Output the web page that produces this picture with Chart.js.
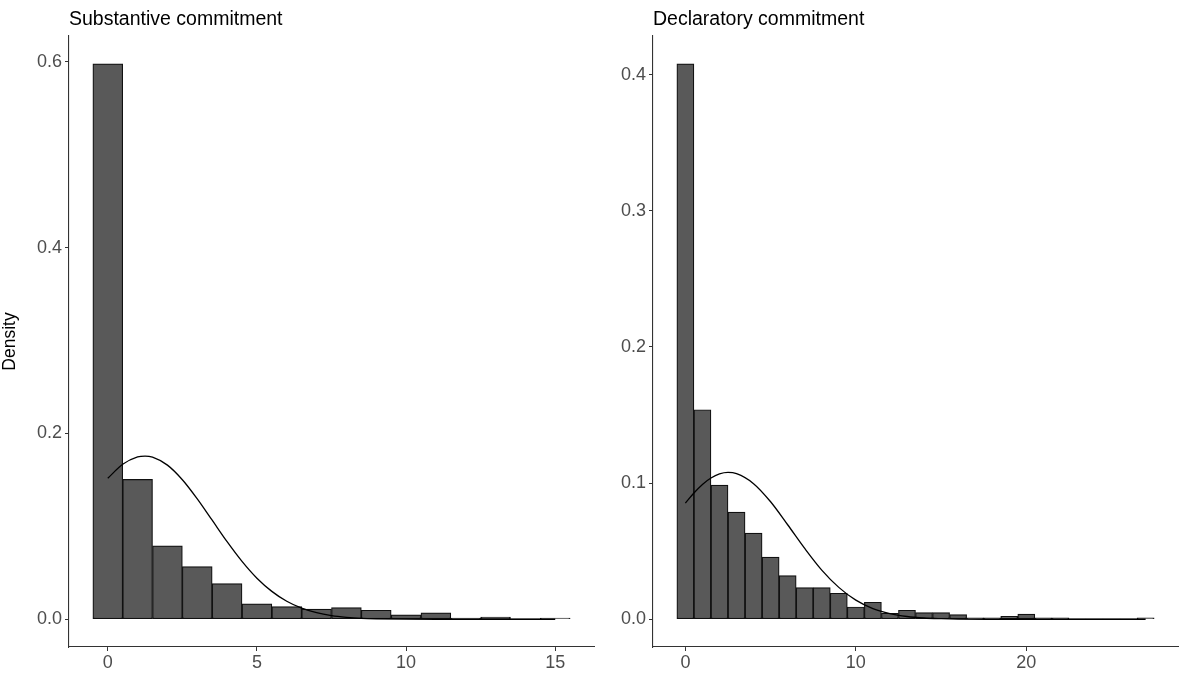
<!DOCTYPE html>
<html>
<head>
<meta charset="utf-8">
<script src="https://cdn.jsdelivr.net/npm/chart.js@4.4.1/dist/chart.umd.min.js"></script>
<style>
  html, body { margin: 0; padding: 0; background: #ffffff; }
  body { width: 1181px; height: 675px; position: relative; overflow: hidden; }
  #wrapL { position: absolute; left: 0; top: 0; width: 600px; height: 675px; }
  #wrapR { position: absolute; left: 590px; top: 0; width: 591px; height: 675px; }
</style>
</head>
<body>
<div id="wrapL"><canvas id="cL"></canvas></div>
<div id="wrapR"><canvas id="cR"></canvas></div>
<script>
// ---------- Data ----------
const titleLeft = "Substantive commitment";
const titleRight = "Declaratory commitment";
const yAxisLabel = "Density";

// Substantive commitment histogram (bin centres, density)
const subBins = [0, 1, 2, 3, 4, 5, 6, 7, 8, 9, 10, 11, 12, 13, 14, 15];
const subDensity = [0.598, 0.1505, 0.0789, 0.0566, 0.0383, 0.0166, 0.0136, 0.0109, 0.0125, 0.0097, 0.0046, 0.0069, 0.0012, 0.0022, 0, 0.0012];
// Substantive normal curve
const subCurveX = [0, 0.5, 1, 1.25, 1.5, 2, 2.5, 3, 3.5, 4, 4.5, 5, 5.5, 6, 6.5, 7, 7.5, 8, 8.5, 9, 10, 11, 12, 13, 14, 15];
const subCurveY = [0.1517, 0.1668, 0.1748, 0.1757, 0.1745, 0.1659, 0.1502, 0.1296, 0.1066, 0.0835, 0.0623, 0.0442, 0.0300, 0.0193, 0.0119, 0.0070, 0.0039, 0.0021, 0.0010, 0.0005, 0.0001, 0, 0, 0, 0, 0];
const subXTicks = [0, 5, 10, 15];
const subYTicks = [0.0, 0.2, 0.4, 0.6];

// Declaratory commitment histogram
const decBins = [0, 1, 2, 3, 4, 5, 6, 7, 8, 9, 10, 11, 12, 13, 14, 15, 16, 17, 18, 19, 20, 21, 22, 23, 24, 25, 26, 27];
const decDensity = [0.408, 0.1539, 0.0985, 0.0787, 0.0632, 0.0456, 0.0321, 0.0233, 0.0233, 0.0191, 0.0090, 0.0125, 0.0044, 0.0066, 0.0048, 0.0048, 0.0034, 0.0010, 0.0010, 0.0022, 0.0037, 0.0010, 0.0010, 0, 0, 0, 0, 0.0010];
// Declaratory normal curve
const decCurveX = [0, 0.5, 1, 1.5, 2, 2.5, 3, 4, 5, 6, 7, 8, 9, 10, 11, 12, 13, 14, 15, 16, 18, 20, 22, 24, 27];
const decCurveY = [0.0853, 0.0927, 0.0990, 0.1037, 0.1067, 0.1078, 0.1069, 0.0996, 0.0863, 0.0694, 0.0520, 0.0361, 0.0234, 0.0140, 0.0078, 0.0041, 0.0020, 0.0009, 0.0004, 0.0001, 0, 0, 0, 0, 0];
const decXTicks = [0, 10, 20];
const decYTicks = [0.0, 0.1, 0.2, 0.3, 0.4];

// ---------- Helpers ----------
Chart.defaults.font.family = "'Liberation Sans', Arial, Helvetica, sans-serif";
Chart.defaults.animation = false;

function toXY(xs, ys) { return xs.map((x, i) => ({ x: x, y: ys[i] })); }

function panelTitlePlugin(text) {
  return {
    id: 'panelTitle',
    afterDraw(chart) {
      const ctx = chart.ctx;
      ctx.save();
      ctx.font = "19.5px 'Liberation Sans', Arial, sans-serif";
      ctx.fillStyle = '#000000';
      ctx.textAlign = 'left';
      ctx.textBaseline = 'alphabetic';
      ctx.fillText(text, chart.chartArea.left, 25);
      ctx.restore();
    }
  };
}

function makeChart(canvasId, cfg) {
  const binsMin = cfg.bins[0] - 0.5;
  const binsMax = cfg.bins[cfg.bins.length - 1] + 0.5;
  const xPad = (binsMax - binsMin) * 0.05;
  const yMax = Math.max.apply(null, cfg.density);
  const yPad = yMax * 0.05;
  return new Chart(document.getElementById(canvasId), {
    type: 'bar',
    data: {
      datasets: [
        {
          type: 'line',
          data: toXY(cfg.curveX, cfg.curveY),
          borderColor: '#000000',
          borderWidth: 1.3,
          pointRadius: 0,
          fill: false,
          cubicInterpolationMode: 'monotone',
          order: 0
        },
        {
          type: 'bar',
          data: toXY(cfg.bins, cfg.density),
          backgroundColor: '#595959',
          borderColor: '#111111',
          borderWidth: 1.2,
          borderSkipped: false,
          barPercentage: 1.0,
          categoryPercentage: 1.0,
          minBarLength: 1,
          order: 1
        }
      ]
    },
    options: {
      responsive: true,
      maintainAspectRatio: false,
      animation: false,
      layout: { padding: { top: 36, right: cfg.padRight, bottom: 0, left: 0 } },
      plugins: { legend: { display: false }, tooltip: { enabled: false }, title: { display: false } },
      scales: {
        x: {
          type: 'linear',
          offset: false,
          min: binsMin - xPad,
          max: binsMax + xPad,
          afterBuildTicks(scale) { scale.ticks = cfg.xTicks.map(v => ({ value: v })); },
          afterFit(scale) { scale.height = 28; },
          grid: {
            display: true, drawOnChartArea: false, drawTicks: true, tickLength: 4,
            color: '#333333', offset: false
          },
          border: { display: true, color: '#333333', width: 1.1 },
          ticks: {
            color: '#4d4d4d', font: { size: 18 }, padding: 1, maxRotation: 0, autoSkip: false,
            callback: v => String(v)
          }
        },
        y: {
          type: 'linear',
          min: -yPad,
          max: yMax + yPad,
          afterBuildTicks(scale) { scale.ticks = cfg.yTicks.map(v => ({ value: v })); },
          afterFit(scale) { scale.width = cfg.yAxisWidth; },
          grid: {
            display: true, drawOnChartArea: false, drawTicks: true, tickLength: 4,
            color: '#333333'
          },
          border: { display: true, color: '#333333', width: 1.1 },
          ticks: {
            color: '#4d4d4d', font: { size: 18 }, padding: 3, autoSkip: false,
            callback: v => Number(v).toFixed(1)
          },
          title: {
            display: !!cfg.yTitle,
            text: cfg.yTitle || '',
            color: '#000000',
            font: { size: 17.5 },
            padding: { top: 0, bottom: 0 }
          }
        }
      }
    },
    plugins: [panelTitlePlugin(cfg.title)]
  });
}

makeChart('cL', {
  bins: subBins, density: subDensity, curveX: subCurveX, curveY: subCurveY,
  xTicks: subXTicks, yTicks: subYTicks, title: titleLeft, yTitle: yAxisLabel,
  yAxisWidth: 69, padRight: 6
});
makeChart('cR', {
  bins: decBins, density: decDensity, curveX: decCurveX, curveY: decCurveY,
  xTicks: decXTicks, yTicks: decYTicks, title: titleRight, yTitle: null,
  yAxisWidth: 63, padRight: 3
});
</script>
</body>
</html>
